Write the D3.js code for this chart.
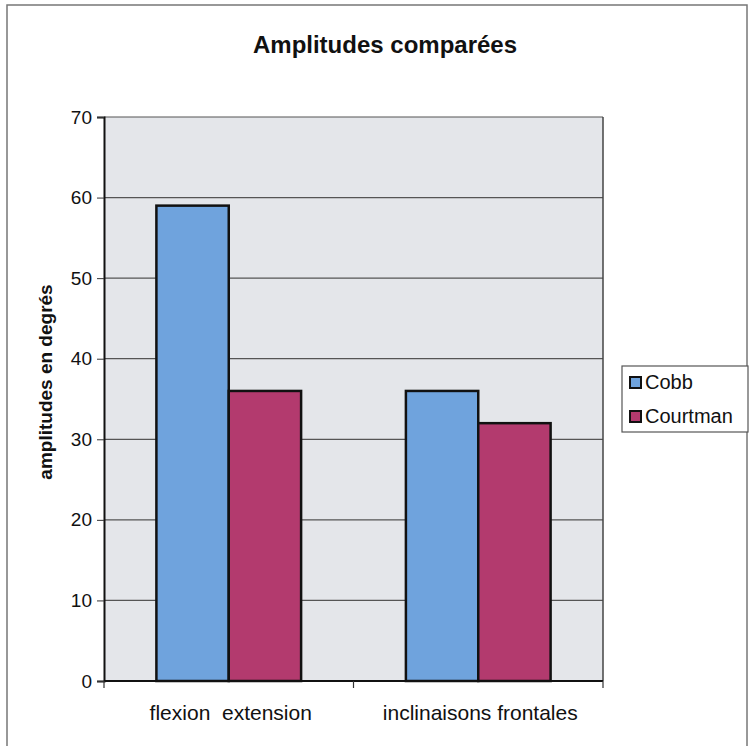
<!DOCTYPE html>
<html lang="fr">
<head>
    <meta charset="utf-8">
    <title>Amplitudes comparées</title>
    <style>
        body { margin: 0; background: #fff; font-family: "Liberation Sans", Arial, sans-serif; }
    </style>
</head>
<body>
    <script src="https://d3js.org/d3.v7.min.js"></script>
    <script>
    // data
    var categories = ["flexion  extension", "inclinaisons frontales"];
    var series = ["Cobb", "Courtman"];
    var cobbValues = [59, 36];
    var courtmanValues = [36, 32];
    var yTicks = [0, 10, 20, 30, 40, 50, 60, 70];

    var w = 750, h = 746;
    var colors = { "Cobb": "#6fa3dd", "Courtman": "#b33a6e" };

    var svg = d3.select("body").append("svg")
        .attr("width", w).attr("height", h);

    // outer frame
    svg.append("rect")
        .attr("x", 7).attr("y", 5).attr("width", 740).attr("height", 760)
        .attr("fill", "#fff").attr("stroke", "#777").attr("stroke-width", 1.5);

    var plot = { left: 104, right: 603, top: 117, bottom: 681 };

    var x = d3.scaleBand()
        .domain(categories)
        .range([plot.left, plot.right])
        .paddingInner(0.42)
        .paddingOuter(0.21);

    var x1 = d3.scaleBand()
        .domain(series)
        .range([0, x.bandwidth()]);

    var y = d3.scaleLinear().domain([0, 70]).range([plot.bottom, plot.top]);

    // plot background
    svg.append("rect")
        .attr("x", plot.left).attr("y", plot.top)
        .attr("width", plot.right - plot.left).attr("height", plot.bottom - plot.top)
        .attr("fill", "#e4e6ea");

    // gridlines
    svg.append("g")
        .selectAll("line")
        .data(yTicks.filter(function(d) { return d > 0; }))
        .enter().append("line")
        .attr("x1", plot.left).attr("x2", plot.right)
        .attr("y1", function(d) { return y(d); })
        .attr("y2", function(d) { return y(d); })
        .attr("stroke", "#555").attr("stroke-width", 1.2);

    // right edge of plot
    svg.append("line")
        .attr("x1", plot.right).attr("x2", plot.right)
        .attr("y1", plot.top).attr("y2", plot.bottom)
        .attr("stroke", "#444").attr("stroke-width", 1.5);

    // bars
    var rows = categories.map(function(c, i) {
        return { cat: c, values: [
            { key: "Cobb", value: cobbValues[i] },
            { key: "Courtman", value: courtmanValues[i] }
        ] };
    });

    svg.append("g")
        .selectAll("g")
        .data(rows)
        .enter().append("g")
        .attr("transform", function(d) { return "translate(" + x(d.cat) + ",0)"; })
        .selectAll("rect")
        .data(function(d) { return d.values; })
        .enter().append("rect")
        .attr("x", function(d) { return x1(d.key); })
        .attr("y", function(d) { return y(d.value); })
        .attr("width", x1.bandwidth())
        .attr("height", function(d) { return y(0) - y(d.value); })
        .attr("fill", function(d) { return colors[d.key]; })
        .attr("stroke", "#111")
        .attr("stroke-width", 2.5);

    // y axis
    var yAxis = svg.append("g")
        .attr("transform", "translate(" + plot.left + ",0)")
        .call(d3.axisLeft(y).tickValues(yTicks).tickSize(7).tickPadding(5));
    yAxis.select(".domain").attr("stroke", "#111").attr("stroke-width", 2);
    yAxis.selectAll(".tick line").attr("stroke", "#333");
    yAxis.selectAll("text")
        .attr("font-size", 19).attr("fill", "#111")
        .attr("font-family", "'Liberation Sans', Arial, sans-serif");

    // x axis
    var xAxis = svg.append("g")
        .attr("transform", "translate(0," + plot.bottom + ")")
        .call(d3.axisBottom(x).tickSize(0).tickPadding(24));
    xAxis.select(".domain").remove();
    xAxis.selectAll("text")
        .attr("font-size", 21).attr("fill", "#111")
        .attr("font-family", "'Liberation Sans', Arial, sans-serif")
        .attr("dx", 2)
        .style("white-space", "pre");

    // x tick marks at category boundaries
    var bounds = [plot.left, x(categories[1]) - x.step() * x.paddingInner() / 2, plot.right];
    svg.append("line")
        .attr("x1", plot.left).attr("x2", plot.right)
        .attr("y1", plot.bottom).attr("y2", plot.bottom)
        .attr("stroke", "#111").attr("stroke-width", 2);
    svg.append("g").selectAll("line")
        .data(bounds).enter().append("line")
        .attr("x1", function(d) { return d; }).attr("x2", function(d) { return d; })
        .attr("y1", plot.bottom).attr("y2", plot.bottom + 7)
        .attr("stroke", "#333").attr("stroke-width", 1.2);

    // title
    svg.append("text")
        .attr("x", 385).attr("y", 53)
        .attr("text-anchor", "middle")
        .attr("font-size", 24).attr("font-weight", "bold").attr("fill", "#111")
        .text("Amplitudes comparées");

    // y axis label
    svg.append("text")
        .attr("transform", "translate(52,382) rotate(-90)")
        .attr("text-anchor", "middle")
        .attr("font-size", 19).attr("font-weight", "bold").attr("fill", "#111")
        .text("amplitudes en degrés");

    // legend
    var legend = svg.append("g").attr("transform", "translate(622,366)");
    legend.append("rect")
        .attr("width", 126).attr("height", 66)
        .attr("fill", "#fff").attr("stroke", "#555").attr("stroke-width", 1.2);
    var items = legend.selectAll(".item")
        .data(series).enter().append("g")
        .attr("transform", function(d, i) { return "translate(8," + (11 + i * 34) + ")"; });
    items.append("rect")
        .attr("width", 11).attr("height", 11)
        .attr("fill", function(d) { return colors[d]; })
        .attr("stroke", "#111").attr("stroke-width", 2);
    items.append("text")
        .attr("x", 15).attr("y", 12)
        .attr("font-size", 20).attr("fill", "#111")
        .text(function(d) { return d; });
    </script>
</body>
</html>
